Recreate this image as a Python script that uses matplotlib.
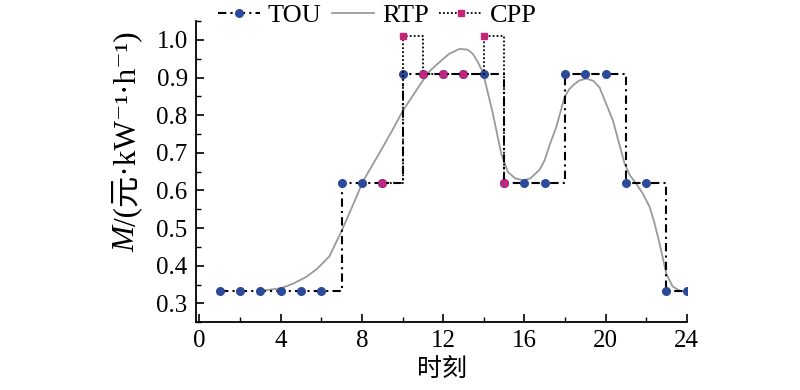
import numpy as np
import matplotlib
matplotlib.use('Agg')
import matplotlib.pyplot as plt
from matplotlib.ticker import MultipleLocator

# data
hours = list(range(1, 25))
tou = [0.333] * 6 + [0.62] * 3 + [0.91] * 5 + [0.62] * 3 + [0.91] * 3 + [0.62] * 2 + [0.333] * 2

cpp_hours = [9, 10, 11, 12, 13, 14, 15]
cpp = [0.62, 1.01, 0.91, 0.91, 0.91, 1.01, 0.62]

rtp_hours = [3.0, 4.0, 4.6, 5.25, 5.8, 6.4, 6.98, 7.55, 8.05, 8.87, 9.5, 10.02, 10.84,
             11.3, 11.82, 12.3, 12.81, 13.2, 13.46, 13.7, 13.96, 14.45, 14.86, 15.19, 15.55,
             15.93, 16.3, 16.75, 17.0, 17.24, 17.57, 17.98, 18.2, 18.39, 18.7, 19.05, 19.4, 19.7,
             20.36, 20.94, 21.2, 21.51, 21.85, 22.17, 22.4, 22.66, 22.99, 23.3, 23.6]
rtp = [0.333, 0.340, 0.352, 0.370, 0.392, 0.425, 0.490, 0.560, 0.624, 0.700, 0.760, 0.812, 0.879,
       0.915, 0.941, 0.963, 0.976, 0.974, 0.963, 0.942, 0.914, 0.804, 0.698, 0.649, 0.632,
       0.627, 0.632, 0.655, 0.680, 0.720, 0.768, 0.848, 0.868, 0.879, 0.892, 0.897, 0.891, 0.874,
       0.786, 0.671, 0.640, 0.618, 0.590, 0.556, 0.515, 0.459, 0.379, 0.345, 0.335]

fam = ['Liberation Serif', 'Noto Sans CJK SC', 'DejaVu Serif']
plt.rcParams['font.family'] = fam
plt.rcParams['font.size'] = 18

blue = '#2b4a9a'
pink = '#c8237a'

fig = plt.figure(figsize=(8, 3.9), dpi=100)
ax = fig.add_axes([0.245, 0.174, 0.614, 0.772])

ax.plot(rtp_hours, rtp, color='#9a9a9a', lw=1.3, zorder=2, label='RTP')
ax.plot(hours, tou, drawstyle='steps-post', color='black', lw=1.5, ls=(0, (4, 2, 1, 2)),
        marker='o', ms=5.5, mfc=blue, mec=blue, zorder=3, label='TOU')
ax.plot(cpp_hours, cpp, drawstyle='steps-post', color='black', lw=1.3, ls=(0, (1, 1.2)),
        marker='s', ms=4.8, mfc=pink, mec=pink, zorder=4, label='CPP')

ax.set_xlim(-0.17, 24.02)
ax.set_ylim(0.25, 1.05)
ax.xaxis.set_major_locator(MultipleLocator(4))
ax.xaxis.set_minor_locator(MultipleLocator(2))
ax.yaxis.set_minor_locator(MultipleLocator(0.05))
ax.set_yticks([0.3, 0.4, 0.5, 0.6, 0.7, 0.8, 0.9, 1.0])
ax.set_yticklabels(['0.3', '0.4', '0.5', '0.6', '0.7', '0.8', '0.9', '1.0'])
ax.tick_params(which='major', direction='in', length=6, width=1.2, pad=6)
ax.tick_params(which='minor', direction='in', length=3.5, width=1.0)
ax.spines['top'].set_visible(False)
ax.spines['right'].set_visible(False)
ax.spines['left'].set_linewidth(1.3)
ax.spines['bottom'].set_linewidth(1.3)

ax.set_xlabel('时刻', fontsize=18, labelpad=4)

# y label: italic M followed by the unit
r = fig.canvas.get_renderer()
t1 = fig.text(0.159, 0.355, 'M', style='italic', rotation=90, ha='center', va='bottom', fontsize=22.5)
bb = t1.get_window_extent(renderer=r).transformed(fig.transFigure.inverted())
fig.text(0.159, bb.y1, '/(元·kW⁻¹·h⁻¹)', rotation=90, ha='center', va='bottom', fontsize=22.5)

h, l = ax.get_legend_handles_labels()
order = [1, 0, 2]
fig.legend([h[i] for i in order], [l[i] for i in order], loc='center left',
           bbox_to_anchor=(0.272, 0.96), ncol=3, frameon=False, fontsize=19,
           handlelength=1.6, handletextpad=0.3, columnspacing=0.4,
           borderpad=0, borderaxespad=0)

fig.savefig('out.png', dpi=100)
